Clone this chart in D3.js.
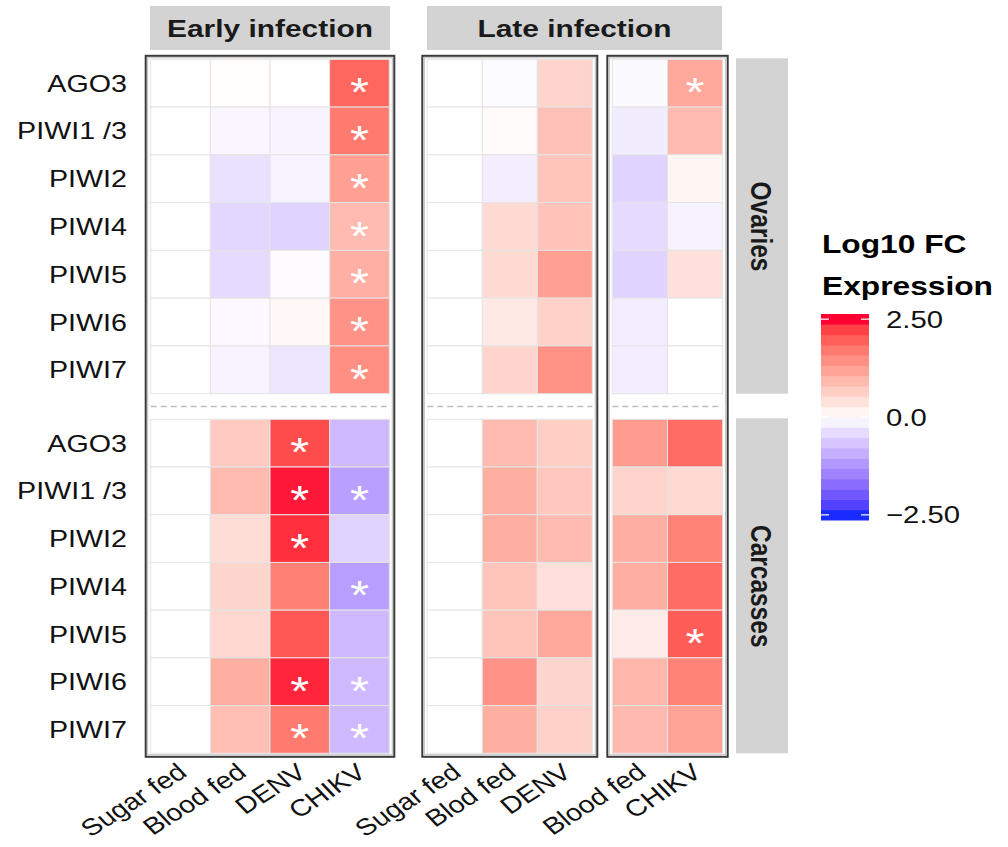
<!DOCTYPE html>
<html>
<head>
<meta charset="utf-8">
<script src="https://cdn.jsdelivr.net/npm/d3@7"></script>
<style>
  body { margin: 0; background: #fff; }
  text { font-family: "Liberation Sans", Arial, sans-serif; }
</style>
</head>
<body>
<div id="chart"></div>
<script>
// ---- data (log10 fold change) ----
var genes = ["AGO3", "PIWI1 /3", "PIWI2", "PIWI4", "PIWI5", "PIWI6", "PIWI7"];
var tissues = ["Ovaries", "Carcasses"];
var earlyConds = ["Sugar fed", "Blood fed", "DENV", "CHIKV"];
var lateAConds = ["Sugar fed", "Blod fed", "DENV"];
var lateBConds = ["Blood fed", "CHIKV"];

var earlyOvaries = [
  [0, 0.02, -0.01, 1.9],
  [0, -0.1, -0.12, 1.7],
  [0, -0.35, -0.12, 1.25],
  [0, -0.45, -0.5, 0.9],
  [0, -0.42, -0.04, 1.05],
  [0, -0.07, 0.1, 1.4],
  [0, -0.12, -0.28, 1.45]
];
var earlyCarcasses = [
  [0, 0.7, 2.15, -0.8],
  [0, 0.9, 2.45, -1.1],
  [0, 0.45, 2.35, -0.5],
  [0, 0.55, 1.63, -1.12],
  [0, 0.52, 2.05, -0.8],
  [0, 1.07, 2.4, -0.8],
  [0, 0.85, 1.68, -0.8]
];
var lateOvariesA = [
  [0, -0.05, 0.57],
  [0, 0.05, 0.82],
  [0, -0.2, 0.78],
  [0, 0.48, 0.8],
  [0, 0.48, 1.25],
  [0, 0.3, 0.62],
  [0, 0.58, 1.42]
];
var lateCarcassesA = [
  [0, 0.9, 0.66],
  [0, 1.07, 0.75],
  [0, 1.07, 0.9],
  [0, 0.78, 0.42],
  [0, 0.78, 1.15],
  [0, 1.4, 0.55],
  [0, 1.07, 0.62]
];
var lateOvariesB = [
  [-0.06, 1.15],
  [-0.22, 0.9],
  [-0.5, 0.12],
  [-0.42, -0.15],
  [-0.5, 0.42],
  [-0.2, 0.0],
  [-0.2, 0.0]
];
var lateCarcassesB = [
  [1.3, 1.85],
  [0.58, 0.48],
  [1.07, 1.6],
  [1.07, 1.85],
  [0.25, 2.0],
  [0.95, 1.6],
  [0.93, 1.2]
];
// significance (1 = asterisk)
var earlyOvSig = [[0,0,0,1],[0,0,0,1],[0,0,0,1],[0,0,0,1],[0,0,0,1],[0,0,0,1],[0,0,0,1]];
var earlyCaSig = [[0,0,1,0],[0,0,1,1],[0,0,1,0],[0,0,0,1],[0,0,0,0],[0,0,1,1],[0,0,1,1]];
var lateOvSigA = [[0,0,0],[0,0,0],[0,0,0],[0,0,0],[0,0,0],[0,0,0],[0,0,0]];
var lateCaSigA = [[0,0,0],[0,0,0],[0,0,0],[0,0,0],[0,0,0],[0,0,0],[0,0,0]];
var lateOvSigB = [[0,1],[0,0],[0,0],[0,0],[0,0],[0,0],[0,0]];
var lateCaSigB = [[0,0],[0,0],[0,0],[0,0],[0,1],[0,0],[0,0]];

var legendTicks = [2.5, 0, -2.5];
var legendLabels = ["2.50", "0.0", "\u22122.50"];

// ---- layout ----
var W = 1008, H = 847, sx = 1.22;
var rowRanges = { "Ovaries": [59.3, 393.7], "Carcasses": [419.3, 753.3] };
var pad = 5;

var color = d3.scaleLinear().domain([-2.5, 0, 2.5])
    .range(["#1a2bff", "#ffffff", "#ff0033"])
    .interpolate(d3.interpolateLab).clamp(true);

var svg = d3.select("#chart").append("svg")
    .attr("width", W).attr("height", H)
    .style("background", "#fff");

var yScales = {};
tissues.forEach(function(t){
  yScales[t] = d3.scaleBand().domain(genes).range(rowRanges[t]);
});

var panels = [
  { conds: earlyConds, range: [150.7, 389.3], vals: [earlyOvaries, earlyCarcasses], sig: [earlyOvSig, earlyCaSig] },
  { conds: lateAConds, range: [427.3, 592.3], vals: [lateOvariesA, lateCarcassesA], sig: [lateOvSigA, lateCaSigA] },
  { conds: lateBConds, range: [612.3, 722.7], vals: [lateOvariesB, lateCarcassesB], sig: [lateOvSigB, lateCaSigB] }
];

function stretched(sel, x, y, extra) {
  return sel.attr("transform", "translate(" + x + "," + y + ") scale(" + sx + ",1)" + (extra || ""));
}

panels.forEach(function(p, pi){
  var x = d3.scaleBand().domain(p.conds).range(p.range);
  var g = svg.append("g").attr("class", "panel" + pi);
  var top = rowRanges.Ovaries[0], bot = rowRanges.Carcasses[1];

  // panel frame (double line look)
  g.append("rect")
    .attr("x", p.range[0] - pad).attr("y", top - 3.5)
    .attr("width", p.range[1] - p.range[0] + 2*pad).attr("height", bot - top + 7)
    .attr("fill", "none").attr("stroke", "#3a3a3a").attr("stroke-width", 2);
  g.append("rect")
    .attr("x", p.range[0] - pad + 2).attr("y", top - 1.5)
    .attr("width", p.range[1] - p.range[0] + 2*pad - 4).attr("height", bot - top + 3)
    .attr("fill", "none").attr("stroke", "#bbb").attr("stroke-width", 1);

  tissues.forEach(function(t, ti){
    var y = yScales[t];
    var cells = [];
    genes.forEach(function(gn, gi){
      p.conds.forEach(function(c, ci){
        cells.push({ gene: gn, cond: c, v: p.vals[ti][gi][ci], s: p.sig[ti][gi][ci] });
      });
    });
    g.selectAll(".cell" + ti).data(cells).enter().append("rect")
      .attr("class", "cell" + ti)
      .attr("x", function(d){ return x(d.cond); })
      .attr("y", function(d){ return y(d.gene); })
      .attr("width", x.bandwidth()).attr("height", y.bandwidth())
      .attr("fill", function(d){ return color(d.v); })
      .attr("stroke", "#e4e4e4").attr("stroke-width", 1);
    g.selectAll(".star" + ti).data(cells.filter(function(d){ return d.s; })).enter().append("text")
      .attr("class", "star" + ti)
      .each(function(d){
        stretched(d3.select(this), x(d.cond) + x.bandwidth()/2, y(d.gene) + y.bandwidth()/2 + 23);
      })
      .attr("text-anchor", "middle")
      .attr("font-size", 40)
      .attr("fill", "#fff")
      .text("*");
  });

  // dashed separator between tissues
  var midY = (rowRanges.Ovaries[1] + rowRanges.Carcasses[0]) / 2;
  g.append("line")
    .attr("x1", p.range[0]).attr("x2", p.range[1])
    .attr("y1", midY).attr("y2", midY)
    .attr("stroke", "#bdbdbd").attr("stroke-width", 1.5)
    .attr("stroke-dasharray", "6,4");

  // x labels, rotated
  g.selectAll(".xlab").data(p.conds).enter().append("text")
    .attr("class", "xlab")
    .each(function(d){
      stretched(d3.select(this), x(d) + x.bandwidth()/2 + 8, 775, " rotate(-38)");
    })
    .attr("text-anchor", "end")
    .attr("font-size", 23.5).attr("fill", "#111")
    .text(function(d){ return d; });
});

// gene labels on the left
tissues.forEach(function(t){
  var y = yScales[t];
  svg.append("g").selectAll("text").data(genes).enter().append("text")
    .each(function(d){ stretched(d3.select(this), 127, y(d) + y.bandwidth()/2 + 8.5); })
    .attr("text-anchor", "end")
    .attr("font-size", 23.5).attr("fill", "#111")
    .text(function(d){ return d; });
});

// top strips
var strips = [
  { label: "Early infection", x0: 150, x1: 390 },
  { label: "Late infection", x0: 427, x1: 722 }
];
strips.forEach(function(s){
  svg.append("rect").attr("x", s.x0).attr("y", 6).attr("width", s.x1 - s.x0).attr("height", 44)
    .attr("fill", "#d3d3d3");
  stretched(svg.append("text"), (s.x0 + s.x1)/2, 36.5)
    .attr("text-anchor", "middle").attr("font-size", 24.5).attr("font-weight", "bold")
    .attr("fill", "#1a1a1a").text(s.label);
});

// right strips
tissues.forEach(function(t){
  var r = rowRanges[t];
  svg.append("rect").attr("x", 736).attr("y", r[0] - 1).attr("width", 52).attr("height", r[1] - r[0] + 1)
    .attr("fill", "#d3d3d3");
  stretched(svg.append("text"), 762, (r[0] + r[1])/2, " rotate(90)")
    .attr("text-anchor", "middle").attr("dy", "0.36em")
    .attr("font-size", 24.5).attr("font-weight", "bold")
    .attr("fill", "#1a1a1a").text(t);
});

// legend
var leg = svg.append("g");
stretched(leg.append("text"), 822, 253)
  .attr("font-family", "Lato, 'Open Sans', sans-serif")
  .attr("font-size", 26).attr("font-weight", "bold").attr("fill", "#000").text("Log10 FC");
stretched(leg.append("text"), 822, 295)
  .attr("font-family", "Lato, 'Open Sans', sans-serif")
  .attr("font-size", 26).attr("font-weight", "bold").attr("fill", "#000").text("Expression");

var nbin = 20;
var bins = d3.range(nbin).map(function(i){ return -2.5 + i * 5 / (nbin - 1); });
var ly = d3.scaleLinear().domain([-2.5, 2.5]).range([514.85, 319.15]);
var binH = (ly(-2.5) - ly(2.5)) / (nbin - 1);
var barX = 821, barW = 48;
leg.selectAll(".bin").data(bins).enter().append("rect")
  .attr("class", "bin")
  .attr("x", barX).attr("y", function(d){ return ly(d) - binH/2; })
  .attr("width", barW).attr("height", binH + 0.5)
  .attr("fill", function(d){ return color(d); });
legendTicks.forEach(function(v){
  leg.append("line").attr("x1", barX).attr("x2", barX + 8).attr("y1", ly(v)).attr("y2", ly(v))
    .attr("stroke", "#fff").attr("stroke-width", 1.2);
  leg.append("line").attr("x1", barX + barW - 8).attr("x2", barX + barW).attr("y1", ly(v)).attr("y2", ly(v))
    .attr("stroke", "#fff").attr("stroke-width", 1.2);
});
leg.selectAll(".tl").data(legendTicks).enter().append("text")
  .attr("class", "tl")
  .each(function(d){ stretched(d3.select(this), 886, ly(d) + 8.5); })
  .attr("font-size", 24).attr("fill", "#111")
  .text(function(d, i){ return legendLabels[i]; });
</script>
</body>
</html>
